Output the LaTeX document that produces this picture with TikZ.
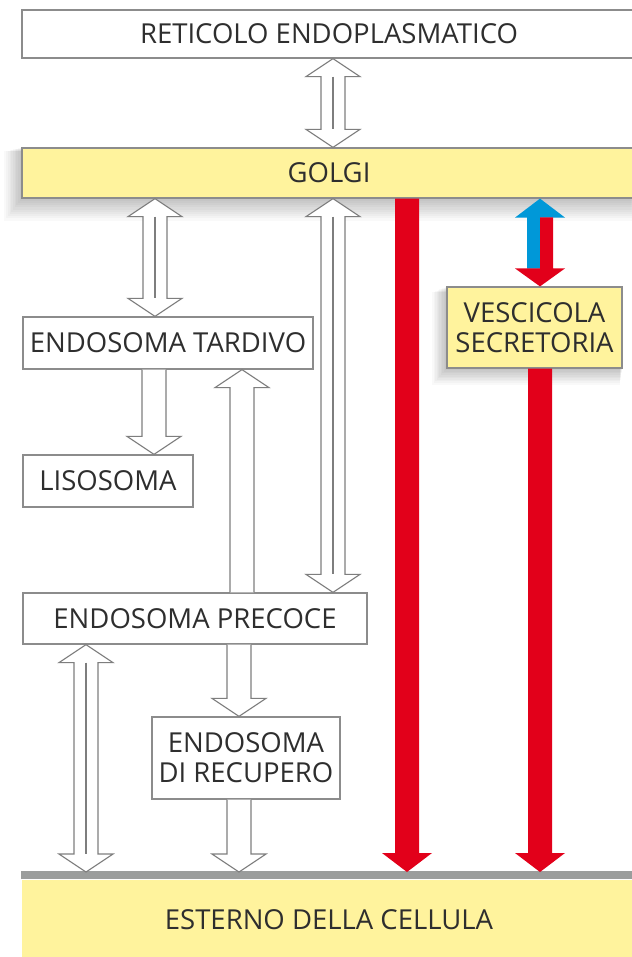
\documentclass[tikz,border=0pt]{standalone}
\usepackage{fontspec}
\setmainfont{Open Sans}
\usetikzlibrary{calc,backgrounds}
\definecolor{giallo}{HTML}{FFF39D}
\definecolor{rosso}{HTML}{E2001A}
\definecolor{blu}{HTML}{0098D8}
\definecolor{grigio}{HTML}{8C8C8C}
\definecolor{banda}{HTML}{9B9D9C}
\definecolor{testo}{HTML}{2E2E2E}
\tikzset{
  scatola/.style={draw=grigio,line width=1.2pt,fill=white,text=testo,inner sep=0pt,
    font=\fontsize{27.5}{30}\selectfont,align=center},
  scatolag/.style={scatola,fill=giallo},
  vuota/.style={draw=grigio!90!black,line width=1.1pt,fill=white,line join=miter},
}
% freccia vuota verso il basso: #1 partenza, #2 punta
\newcommand{\giu}[2]{%
  \draw[vuota] ($#1+(-12,0)$) -- ($#2+(-12,-18)$) -- ($#2+(-27,-18)$) -- #2
    -- ($#2+(27,-18)$) -- ($#2+(12,-18)$) -- ($#1+(12,0)$);}
% freccia vuota verso l'alto
\newcommand{\su}[2]{%
  \draw[vuota] ($#1+(-12,0)$) -- ($#2+(-12,18)$) -- ($#2+(-27,18)$) -- #2
    -- ($#2+(27,18)$) -- ($#2+(12,18)$) -- ($#1+(12,0)$);}
% freccia doppia: #1 punta in alto, #2 punta in basso
\newcommand{\doppia}[2]{%
  \draw[vuota] #1 -- ($#1+(27,18)$) -- ($#1+(12,18)$) -- ($#2+(12,-18)$) -- ($#2+(27,-18)$)
    -- #2 -- ($#2+(-27,-18)$) -- ($#2+(-12,-18)$) -- ($#1+(-12,18)$) -- ($#1+(-27,18)$) -- cycle;
  \draw[vuota] ($#1+(0,18)$) -- ($#2+(0,-18)$);}
% freccia rossa piena
\newcommand{\rossa}[2]{%
  \fill[rosso] ($#1+(-12,0)$) -- ($#2+(-12,-19)$) -- ($#2+(-25,-19)$) -- #2
    -- ($#2+(25,-19)$) -- ($#2+(12,-19)$) -- ($#1+(12,0)$) -- cycle;}

\begin{document}
\begin{tikzpicture}[x=1pt,y=-1pt]
  \useasboundingbox (0,0) rectangle (631,957);
  % scatole
  \node[scatola,minimum width=614,minimum height=48] (reticolo) at (329,34) {RETICOLO ENDOPLASMATICO};
  \node[scatolag,minimum width=614,minimum height=50] (golgi) at (329,173) {GOLGI};
  \node[scatola,minimum width=290,minimum height=52] (tardivo) at (168,343) {ENDOSOMA TARDIVO};
  \node[scatola,minimum width=170,minimum height=52] (lisosoma) at (108,481) {LISOSOMA};
  \node[scatola,minimum width=344,minimum height=51] (precoce) at (195,618.5) {ENDOSOMA PRECOCE};
  \node[scatola,minimum width=188,minimum height=82] (recupero) at (246,758) {ENDOSOMA\\DI RECUPERO};
  \node[scatolag,minimum width=175,minimum height=81] (vescicola) at (534.5,327.5) {VESCICOLA\\SECRETORIA};
  \node[scatolag,draw=none,minimum width=614,minimum height=80] (esterno) at (329,920) {ESTERNO DELLA CELLULA};
  \fill[banda] (esterno.north west) rectangle ++(614,-8);
  \coordinate (membrana) at (329,872);

  % frecce vuote
  \doppia{(333,0 |- reticolo.south)}{(333,0 |- golgi.north)}
  \doppia{(155,0 |- golgi.south)}{(155,0 |- tardivo.north)}
  \giu{(154,0 |- tardivo.south)}{(154,0 |- lisosoma.north)}
  \su{(242,0 |- precoce.north)}{(242,0 |- tardivo.south)}
  \doppia{(333,0 |- golgi.south)}{(333,0 |- precoce.north)}
  \doppia{(86,0 |- precoce.south)}{(86,0 |- membrana)}
  \giu{(239,0 |- precoce.south)}{(239,0 |- recupero.north)}
  \giu{(239,0 |- recupero.south)}{(239,0 |- membrana)}

  % frecce rosse
  \rossa{(407,0 |- golgi.south)}{(407,0 |- membrana)}
  \rossa{(540,0 |- vescicola.south)}{(540,0 |- membrana)}
  \coordinate (vsu) at (540,0 |- golgi.south);
  \coordinate (vgiu) at (540,0 |- vescicola.north);
  \fill[blu] (vsu) -- ++(25,19) -- ++(-25,0) -- ++(0,51) -- ++(-13,0) -- ++(0,-51) -- ++(-12,0) -- cycle;
  \fill[rosso] (vgiu) -- ++(25,-18) -- ++(-12,0) -- ++(0,-51) -- ++(-13,0) -- ++(0,51) -- ++(-25,0) -- cycle;

  % ombre
  \begin{scope}[on background layer]
    \fill[white] (0,0) rectangle (631,957);
    \foreach \s in {1,...,10} {
      \fill[black,opacity=0.022] ($(golgi.north west)+(-\s*1.7,\s*0.4)$) rectangle ($(golgi.south east)+(0,\s*2.2)$);
      \fill[black,opacity=0.022] ($(vescicola.north west)+(-\s*1.4,\s*0.6)$) rectangle ($(vescicola.south east)+(-\s*0.3,\s*1.6)$);
    }
  \end{scope}
\end{tikzpicture}
\end{document}
